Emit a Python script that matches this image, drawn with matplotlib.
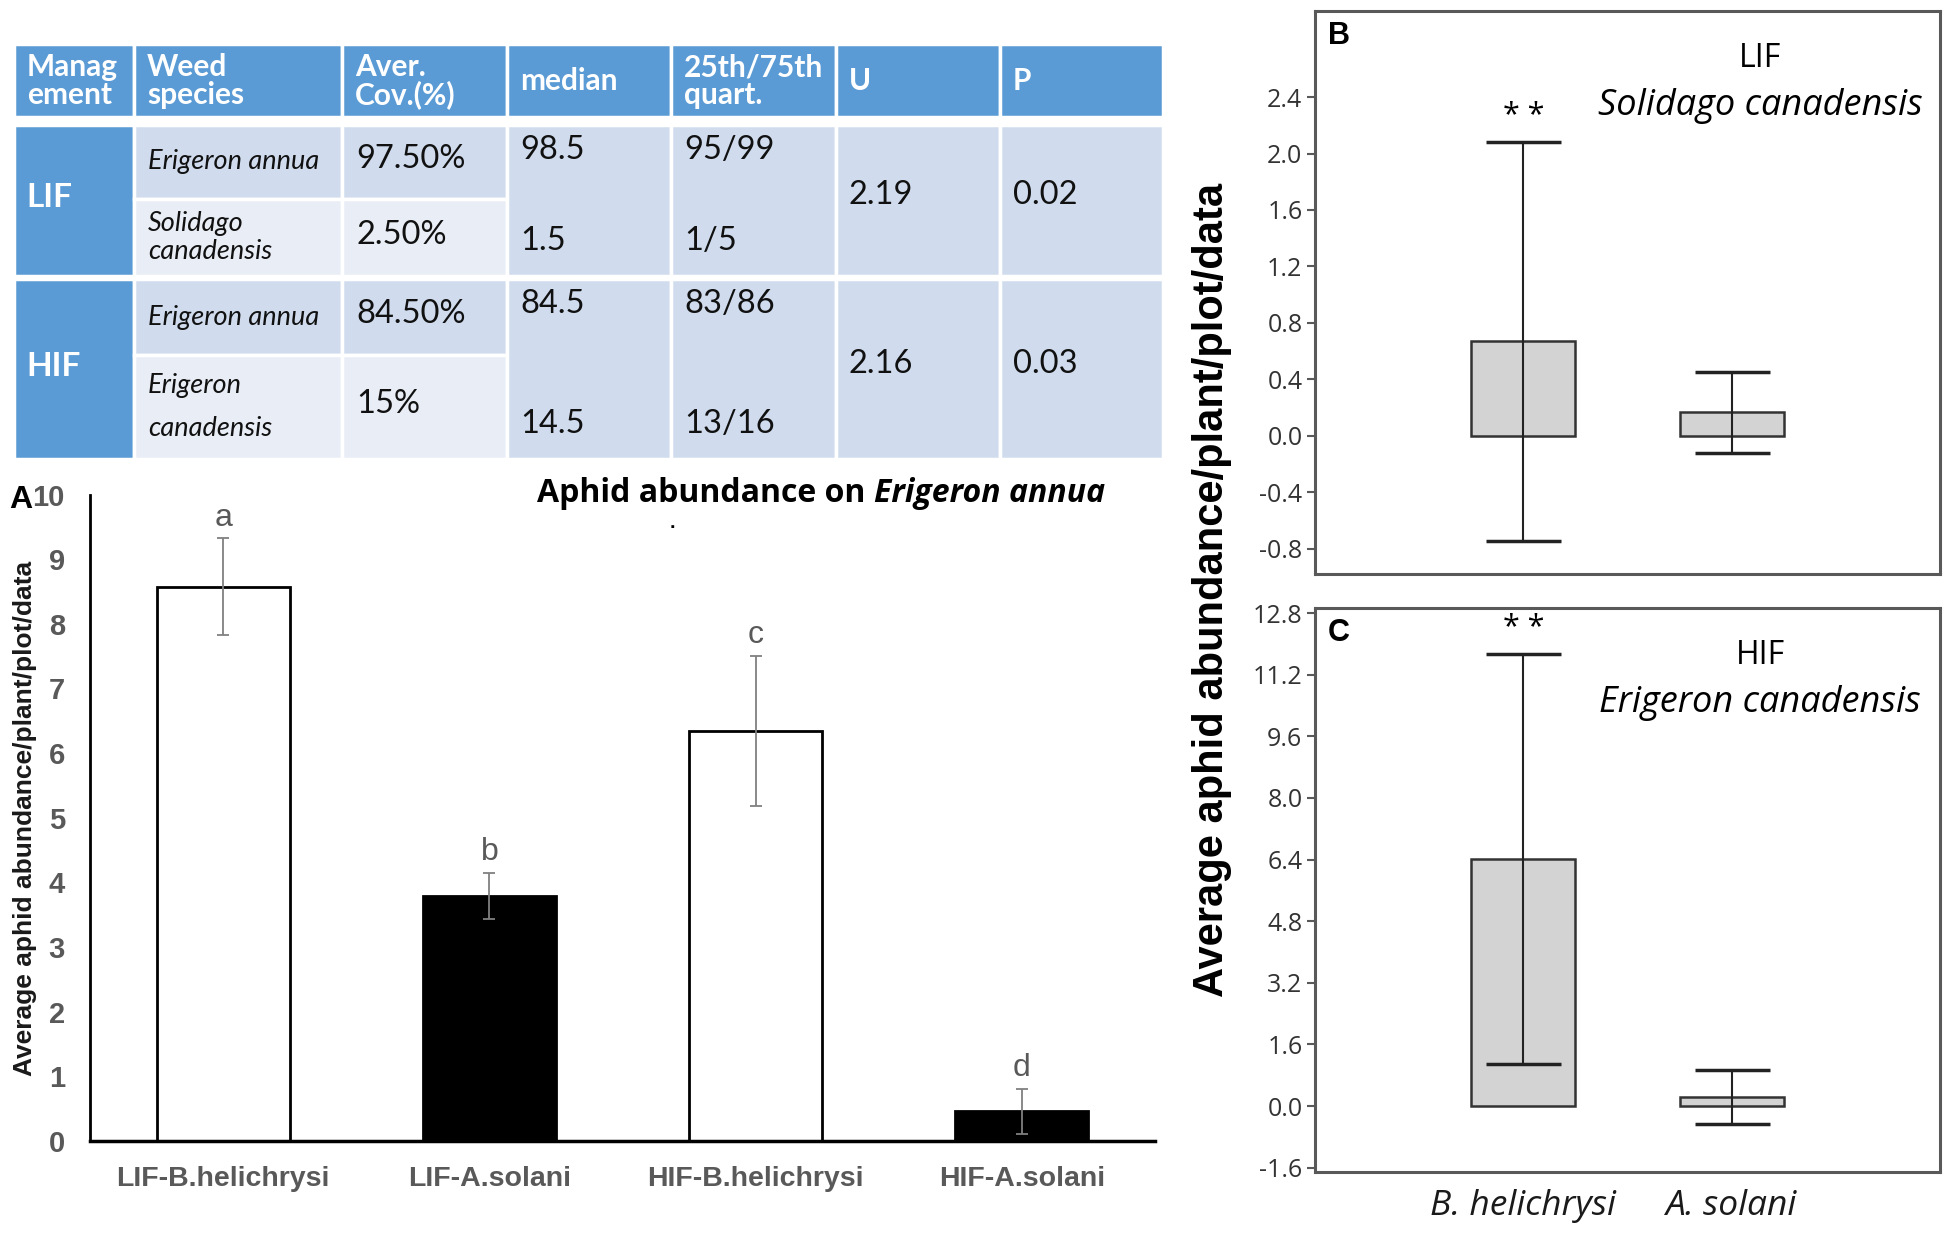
import numpy as np
import matplotlib.pyplot as plt
from matplotlib.patches import Rectangle
from matplotlib.ticker import FormatStrFormatter

plt.rcParams['axes.unicode_minus'] = False
plt.rcParams['font.family'] = ['Liberation Sans', 'DejaVu Sans']

# ---------------- table data ----------------
header = ["Manag\nement", "Weed\nspecies", "Aver.\nCov.(%)", "median",
          "25th/75th\nquart.", "U", "P"]
management = ["LIF", "HIF"]
species = [["Erigeron annua", "Solidago\ncanadensis"],
           ["Erigeron annua", "Erigeron\ncanadensis"]]
cover = [["97.50%", "2.50%"], ["84.50%", "15%"]]
median = [["98.5", "1.5"], ["84.5", "14.5"]]
quartiles = [["95/99", "1/5"], ["83/86", "13/16"]]
u_stat = ["2.19", "2.16"]
p_val = ["0.02", "0.03"]

# ---------------- panel A data ----------------
groups = ["LIF-B.helichrysi", "LIF-A.solani", "HIF-B.helichrysi", "HIF-A.solani"]
means = [8.57, 3.79, 6.34, 0.46]
errs = [0.75, 0.36, 1.16, 0.35]
letters = ["a", "b", "c", "d"]

# ---------------- panels B / C data ----------------
aphids = ["B. helichrysi", "A. solani"]
lif_vals = [0.67, 0.165]
lif_errs = [1.415, 0.29]
hif_vals = [6.42, 0.23]
hif_errs = [5.32, 0.70]

W, H = 1950, 1238
fig = plt.figure(figsize=(W / 100, H / 100), dpi=100)

# background axes in pixel units, used for the table
bg = fig.add_axes([0, 0, 1, 1])
bg.set_xlim(0, W)
bg.set_ylim(H, 0)
bg.axis('off')

blue = '#5B9BD5'
dark = '#D0DCEE'
light = '#E9EEF6'
cols = [14, 134, 342, 507, 671, 836, 1000, 1163]


def cell(x0, x1, y0, y1, c):
    bg.add_patch(Rectangle((x0, y0), x1 - x0, y1 - y0, facecolor=c,
                           edgecolor='white', lw=2.5))


for i, h in enumerate(header):
    cell(cols[i], cols[i + 1], 44, 117, blue)
    bg.text(cols[i] + 13, 81, h, ha='left', va='center', color='white',
            family='Lato', fontweight='bold', fontsize=21.5, linespacing=1.0)

blocks = [(125, 199, 276), (279, 355, 459)]
spacing = [1.15, 1.85]
for b, (y0, ym, y1) in enumerate(blocks):
    cell(cols[0], cols[1], y0, y1, blue)
    bg.text(cols[0] + 12, (y0 + y1) / 2 - 3, management[b], ha='left', va='center',
            color='white', family='Lato', fontweight='bold', fontsize=24)
    for c in (1, 2):
        cell(cols[c], cols[c + 1], y0, ym, dark)
        cell(cols[c], cols[c + 1], ym, y1, light)
    for c in range(3, 7):
        cell(cols[c], cols[c + 1], y0, y1, dark)
    rows_mid = [(y0 + ym) / 2, (ym + y1) / 2]
    for r in range(2):
        bg.text(cols[1] + 14, rows_mid[r], species[b][r], ha='left', va='center',
                family='Lato', style='italic', fontsize=19.5, linespacing=spacing[r if b else 0],
                color='#111111')
        bg.text(cols[2] + 14, rows_mid[r] - 3, cover[b][r], ha='left', va='center',
                family='Lato', fontsize=23.5, color='#111111')
    bg.text(cols[3] + 13, y0 + 25, median[b][0], ha='left', va='center',
            family='Lato', fontsize=23.5, color='#111111')
    bg.text(cols[3] + 13, y1 - 35, median[b][1], ha='left', va='center',
            family='Lato', fontsize=23.5, color='#111111')
    bg.text(cols[4] + 13, y0 + 25, quartiles[b][0], ha='left', va='center',
            family='Lato', fontsize=23.5, color='#111111')
    bg.text(cols[4] + 13, y1 - 35, quartiles[b][1], ha='left', va='center',
            family='Lato', fontsize=23.5, color='#111111')
    bg.text(cols[5] + 13, (y0 + y1) / 2 - 5, u_stat[b], ha='left', va='center',
            family='Lato', fontsize=23.5, color='#111111')
    bg.text(cols[6] + 13, (y0 + y1) / 2 - 5, p_val[b], ha='left', va='center',
            family='Lato', fontsize=23.5, color='#111111')

# ---------------- panel A ----------------
axA = fig.add_axes([90 / W, 1 - 1141 / H, (1155 - 90) / W, (1141 - 494.5) / H])
x = np.arange(len(groups))
axA.bar(x, means, width=0.5, color=['white', 'black', 'white', 'black'],
        edgecolor='black', linewidth=2)
axA.errorbar(x, means, yerr=errs, fmt='none', ecolor='#808080',
             elinewidth=1.3, capsize=4, capthick=1.3)
for xi, m, e, l in zip(x, means, errs, letters):
    axA.text(xi, m + e + 0.32, l, ha='center', va='center', fontsize=23, color='#595959')
axA.set_xlim(-0.5, 3.5)
axA.set_ylim(0, 10)
axA.set_yticks(range(0, 11))
axA.set_yticklabels([str(v) for v in range(0, 11)], fontweight='bold')
axA.set_xticks(x)
axA.set_xticklabels(groups, fontweight='bold')
axA.spines[['top', 'right']].set_visible(False)
axA.spines['left'].set_linewidth(2)
axA.spines['bottom'].set_linewidth(2.5)
axA.tick_params(axis='y', length=0, pad=18, labelsize=21, labelcolor='#595959')
axA.tick_params(axis='x', length=0, pad=18, labelsize=20.5, labelcolor='#595959')

fig.text(9 / W, 1 - 500 / H, "A", fontsize=23, fontweight='bold', va='center')
fig.text(25 / W, 1 - 818 / H, "Average aphid abundance/plant/plot/data", rotation=90,
         fontsize=19, fontweight='bold', color='#1a1a1a', ha='center', va='center')

fig.canvas.draw()
rend = fig.canvas.get_renderer()
t1 = fig.text(537 / W, 1 - 494 / H, "Aphid abundance on", fontsize=23,
              fontweight='bold', family='Open Sans', va='center')
bb = t1.get_window_extent(renderer=rend)
fig.text((bb.x1 + 9) / W, 1 - 494 / H, "Erigeron annua", fontsize=23,
         fontweight='bold', style='italic', family='Open Sans', va='center')
fig.text(670 / W, 1 - 528 / H, ".", fontsize=14, fontweight='bold', va='baseline')

# ---------------- panels B and C ----------------
axB = fig.add_axes([1315 / W, 1 - 574 / H, 625 / W, 563 / H])
axC = fig.add_axes([1315 / W, 1 - 1172 / H, 625 / W, 564 / H])
setups = [
    (axB, lif_vals, lif_errs, (-0.98, 3.01), np.arange(-0.8, 2.41, 0.4), "B", "LIF",
     "Solidago canadensis"),
    (axC, hif_vals, hif_errs, (-1.71, 12.93), np.arange(-1.6, 12.81, 1.6), "C", "HIF",
     "Erigeron canadensis"),
]
for ax, vals, er, lims, ticks, tag, mg, weed in setups:
    ax.bar([1, 2], vals, width=0.5, color='#D3D3D3', edgecolor='#333333', linewidth=1.8)
    ax.errorbar([1, 2], vals, yerr=er, fmt='none', ecolor='#222222',
                elinewidth=1.5, capsize=27, capthick=2.5)
    ax.set_xlim(0, 3)
    ax.set_ylim(*lims)
    ax.set_yticks(ticks)
    ax.yaxis.set_major_formatter(FormatStrFormatter('%.1f'))
    for sp in ax.spines.values():
        sp.set_color('#595959')
        sp.set_linewidth(2.2)
    ax.tick_params(axis='y', direction='out', length=6, width=1.5, color='#595959',
                   labelsize=18, labelcolor='#333333', pad=3)
    for lbl in ax.get_yticklabels():
        lbl.set_family('Open Sans')
    span = lims[1] - lims[0]
    ax.text(1, vals[0] + er[0] + 0.045 * span, "* *", ha='center', va='center',
            fontsize=22, family='Open Sans')
    ax.text(0.02, 0.955, tag, transform=ax.transAxes, fontsize=22,
            fontweight='bold', va='center', ha='left')
    ax.text(0.712, 0.915, mg, transform=ax.transAxes, fontsize=23,
            family='Open Sans', ha='center', va='center')
    ax.text(0.712, 0.832, weed, transform=ax.transAxes, fontsize=26,
            family='Open Sans', style='italic', ha='center', va='center')

axB.set_xticks([])
axC.set_xticks([1, 2])
axC.set_xticklabels(aphids, style='italic', family='Open Sans', fontsize=25.5)
axC.tick_params(axis='x', length=0, pad=12, labelcolor='#1a1a1a')

fig.text(1212 / W, 1 - 590 / H, "Average aphid abundance/plant/plot/data", rotation=90,
         fontsize=30, fontweight='bold', ha='center', va='center')

fig.savefig('out.png', dpi=100)
